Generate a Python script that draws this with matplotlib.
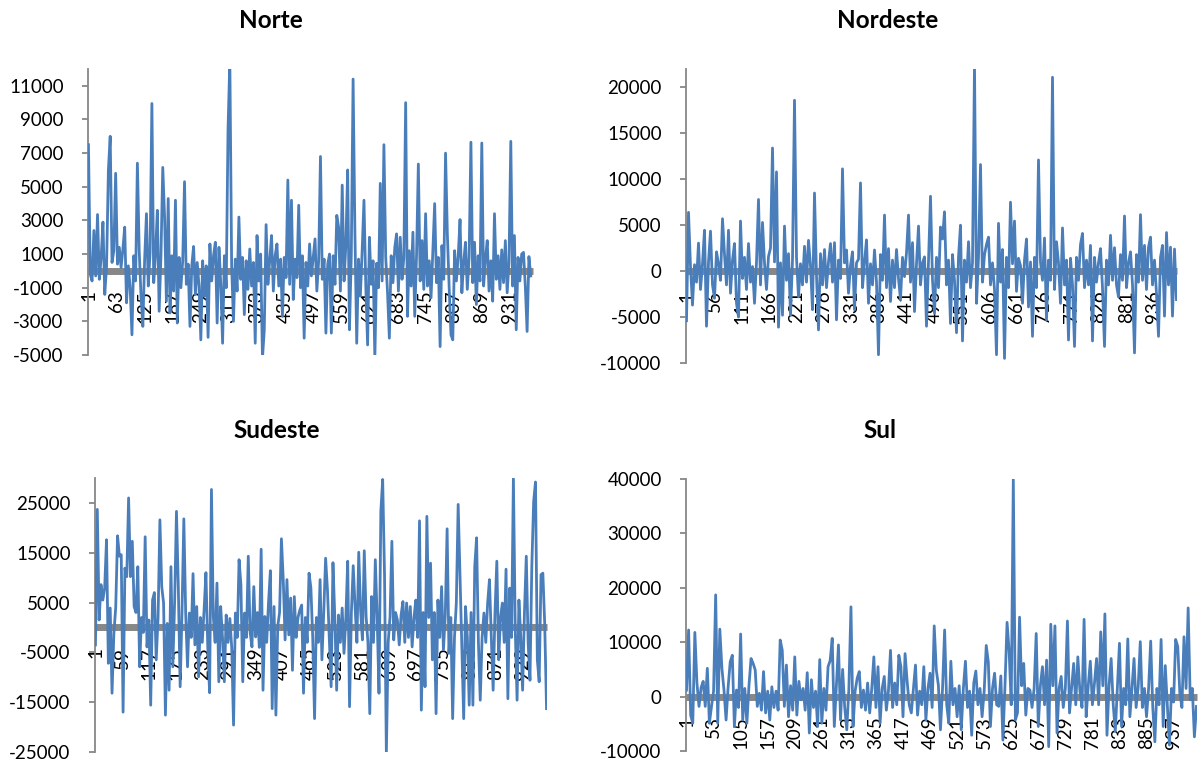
import numpy as np
import matplotlib
matplotlib.use("Agg")
import matplotlib.pyplot as plt

plt.rcParams['font.family'] = ['Lato', 'DejaVu Sans']
plt.rcParams['axes.unicode_minus'] = False

# one value every 4 categories (categories 1, 5, 9, ...)
norte = [
    7500, -200, -600, 2400, -300, 3350, -500, 800, 2900, -1400,
    300, 6000, 8000, 500, 1200, 5800, 400, 1400, 200, 1300,
    2600, -1900, 300, -1000, -3800, 900, -600, 6400, 1200, -1500,
    -3300, 700, 3400, -900, 1100, 9950, -700, 1000, 3600, -2400,
    900, 6150, 3200, -1800, 4300, -2500, 900, -1200, 4200, -3100,
    800, -1000, 600, 5300, -800, 400, -3300, 300, 1450, -1400,
    500, -900, -4100, 600, -1500, 300, -3950, 1600, -600, 900,
    1700, -3100, 1400, -800, -4300, 900, -1000, 8400, 12500, 300,
    -3000, 700, -1200, 3200, -500, 800, -2600, 600, -1100, 1300,
    -900, 500, -4300, 2100, -600, 1000, -5200, -3500, 2750, -800,
    600, 2100, -1200, 900, 1600, -900, 700, -2700, 800, -400,
    5400, -800, 4200, -1700, 700, -400, 3900, -1000, 900, -4000,
    500, -900, 1600, -300, 800, 1900, -1200, 600, 6800, -500,
    700, -3700, 400, 1000, -3700, 900, -800, 3300, 2600, -1200,
    5100, -600, 1500, 6000, -3500, 900, 11400, 2300, -4300, 700,
    -1500, 1200, 4200, -900, -4400, 2000, -800, 600, -5200, 450,
    -1000, 5200, -600, 7500, 800, -1300, -4000, 900, -700, 1400,
    2200, -1200, 2000, -500, 800, 10000, -2700, 1200, -900, 2300,
    -2700, 900, 6350, -600, 1800, -1100, 3400, -900, 600, -1600,
    1200, 4000, -700, 800, -4500, 1500, -500, 7000, 2200, -1000,
    -3800, -4100, 1200, -600, 900, 3050, -1300, 500, 1700, -1100,
    800, 7650, -700, 1700, -2000, 900, -600, 7600, -900, 700,
    1800, -1200, 600, -1800, 3400, -500, 900, -1100, 1250, -700,
    1800, -1300, 500, 7700, -900, 2100, -3500, 800, -600, 1000,
    1100, -900, -3600, 850, -300,
]

nordeste = [
    -5400, 6400, 500, -3700, 700, -1200, 3050, -2000, 800, 4450,
    -6000, 1000, 4350, -1500, -2950, 2100, 800, -1000, 5700, 1800,
    -1500, 4450, -2400, 1200, 3000, -3500, -5000, 5450, -800, 1500,
    -2000, 3000, -1200, 500, -3500, 1000, 7800, -1500, 5300, 900,
    -2000, 1600, 2500, 13400, 1000, 10800, -6100, 900, -4800, 4900,
    -1000, 1900, -4800, 1200, 18600, 1500, -2800, 800, -1500, 2700,
    -1200, 3350, 600, -4200, 8500, -500, -6400, 1900, -1500, 2350,
    -1800, 1000, 3000, -1200, 3100, -5300, 1200, -800, 11130, 900,
    2300, -2400, 600, 2100, -4200, 900, 1300, 9600, -1800, 1000,
    3400, -3500, 800, -1500, 2300, -1200, -9100, 1800, -1000, 6100,
    -1800, 2450, -3300, 1200, -1800, 2350, -800, -3100, 1500, -600,
    2000, 6100, -1200, 3100, -4400, 800, 4900, -1500, 900, 1550,
    -6000, 1000, 8150, -1000, -4600, 1500, -1800, 4800, 3500, 6450,
    -1500, 1200, -5700, 1800, -1000, -6700, 1500, 5000, -7600, 1200,
    -1200, 3200, -1800, 900, 22500, -3500, 1500, 11600, -1200, 1800,
    2900, 3700, -1500, 900, -2000, -9100, 5200, -1200, 2350, -9500,
    1500, -1800, 7500, 800, 5450, -2200, 1400, 600, -3500, 1200,
    3500, -3900, 1000, -7100, 1500, -1800, 12100, 1000, -1000, 3600,
    -5300, 1200, -1000, 21100, -2000, 3200, 900, -3500, 4700, -1500,
    1200, -7500, 1400, -1500, -8200, 1500, -1000, 2900, 4100, -1800,
    1200, -1500, 2800, -7600, 1500, -1200, 900, 2450, -1800, -8200,
    1200, -1500, 3900, -1000, 2550, -1500, -2800, 1800, -1000, 6000,
    -1800, 900, 2100, -1500, -8900, 1800, -1200, 6150, -1000, 2800,
    -2000, 2600, 3700, -1500, 1200, -2500, -7100, 1500, 2800, -4900,
    4200, -1500, 2600, -4900, 2400, -3100,
]

sudeste = [
    -3500, 23700, 1500, 8600, 5500, 7900, 17600, -7200, 3900, -13200,
    -1200, 4000, 18400, 14300, 14600, -17000, 11900, 10200, 26000, 10200,
    17300, 4200, 3000, 12200, -7900, 2000, -1000, 18200, -3900, 1500,
    -15600, 5500, 7000, -6500, 2000, 21600, 8200, 4900, -17600, 800,
    -12600, 12200, -7900, 5000, 23300, 8200, -11900, 3000, 21800, 2900,
    -7900, 2900, -2000, 10800, -3500, 4200, -9900, 2000, -3000, 3500,
    11000, -4000, -13100, 27700, 2200, -3000, 8900, -10900, 4200, -2000,
    -10900, 2500, -3000, 1800, -4000, -19600, 2900, -2000, 13600, 8600,
    -10900, 2900, -2000, 14300, -1000, -3900, 8200, -1900, 3000, -4000,
    15700, -12600, 2200, -3000, 5000, 11400, -16300, 4200, -17600, 200,
    3000, 17800, 9600, -2500, 9600, -1500, 5900, -8600, 6200, -2000,
    2000, 3500, 4500, -13200, 2000, -3000, 10900, 8000, -2000, -18300,
    2000, -3000, 9600, -6500, 3000, 13900, 7600, -2000, -11900, 13000,
    2000, -12600, 2500, -3000, 3900, -5200, 2000, 13300, -15900, 3000,
    12400, 4200, -3000, 15100, 3500, -2500, 15400, 2200, -3000, -17300,
    6200, -3000, 13600, 2000, -13200, 23300, 29700, 10600, -25300, -3000,
    2200, 17300, -2500, 3000, 1500, -3500, 2500, 5200, -3000, 4900,
    -2000, 4200, -3900, 2000, 5500, -2000, 21400, -16600, 3000, -11900,
    22300, 2000, 12900, -6500, 3000, -17300, 5500, -2000, 8200, -4500,
    2500, 19800, -5200, 2000, -18300, -2000, 4900, 24700, 10600, -3000,
    -18300, 4200, -2000, -15600, 3000, -15600, 12200, 18000, -3000, -14600,
    -2000, 2900, -3000, 4900, 9600, -2000, -12600, 3000, 13300, -6500,
    2000, 4900, -3000, 11700, -14300, 7900, -2000, 29900, -200, -14600,
    5500, -2000, -12600, 3000, 14300, -3000, -10600, 12200, 25300, 29200,
    -6500, -10900, 10600, 10900, 800, -16300,
]

sul = [
    1200, 12250, -3400, -4900, 11800, 2500, -1800, 1650, 2800, -1800,
    5200, -4900, -1800, 1000, 18700, -4900, 12400, 5200, 1200, -4300,
    1800, 6400, 7600, -5500, 1200, -2000, 11500, -4300, 1500, -4900,
    2000, 7000, 6100, 4900, -1800, 600, -2500, 4600, -3000, 1000,
    -4300, 1800, -2000, 1000, -2500, 10400, 8500, -1800, 5800, -3700,
    2000, -2500, 7300, -3400, 2800, -600, 1500, -2500, 4400, -6700,
    3100, -2000, 1000, -5500, 6800, -4900, 1500, -2500, 5500, 6600,
    10700, -5500, 2000, 9500, -4300, 5000, -2000, -6100, 1500, 16500,
    -5500, 1000, 3400, 4600, -2000, 1200, -2500, 2500, -3000, 1500,
    7300, -2000, 5500, -4900, 1500, 3700, -2500, 1000, 8500, -2000,
    2500, -1500, 7600, 5500, -3700, 7900, 2800, -1500, -3000, 1500,
    5800, -3400, 1000, -1500, 5500, -4300, 1500, 4300, -2000, 13000,
    4900, 2100, -6100, 1500, 12250, -1500, -4900, 6500, -1500, 1500,
    -3700, 2000, -6100, 1500, 6500, -2000, 1000, -7100, 2500, 4700,
    -1500, 1500, -3700, 1000, 9400, 6300, -5500, 1500, 4300, -1500,
    -1800, 3800, -8000, 2000, 13650, 8300, -1500, 40000, -4300, -3000,
    14600, 2000, 6100, -3400, 1500, 1200, -2000, 1500, 11600, -5500,
    2000, 5500, -1500, 6700, -9200, 13300, 2000, 13000, -6700, 1500,
    3700, -2000, 1500, 13900, -3000, 1500, 6100, -1500, 7300, 1000,
    -2000, 14200, -3700, 2000, 6500, -1500, 2500, 7000, -1500, 11900,
    2000, 15200, -7100, 2000, 7000, -1500, -6400, 1500, 9800, -5500,
    1500, -1500, 10600, -3700, 1500, 7000, -2000, 1800, 10100, -2000,
    1500, -3700, 1500, 10200, -2000, -8300, 1500, -1500, 10500, -5500,
    5700, -1500, -8900, 1500, -1000, 10500, 9200, 600, -2000, 11000,
    1500, 16300, -600, 1500, -7400, -1800,
]

W, H = 1201, 762
fig = plt.figure(figsize=(W / 100, H / 100), dpi=100)

line_color = '#4A7EBB'
axis_grey = '#878787'


def panel(px, vals, step, ylim, yticks, title, title_xy):
    # px = (left, top, right, bottom) in pixels
    l, t, r, b = px
    ax = fig.add_axes([l / W, 1 - b / H, (r - l) / W, (b - t) / H])
    x = np.arange(len(vals)) * 4 + 1
    ax.plot(x, vals, color=line_color, lw=2.0, zorder=3)
    ax.set_xlim(0, 982)
    ax.set_ylim(*ylim)
    for s in ['top', 'right']:
        ax.spines[s].set_visible(False)
    ax.spines['left'].set_color(axis_grey)
    ax.spines['left'].set_linewidth(1.3)
    ax.spines['bottom'].set_position(('data', 0))
    ax.spines['bottom'].set_color(axis_grey)
    ax.spines['bottom'].set_linewidth(5.0)
    ax.spines['bottom'].set_capstyle('butt')
    xt = np.arange(1, 981, step)
    ax.set_xticks(xt)
    ax.set_xticklabels([str(v) for v in xt], rotation=90, va='top', ha='center')
    ax.tick_params(axis='x', length=0, pad=14, labelsize=13.5)
    ax.set_yticks(yticks)
    ax.set_yticklabels([str(v) for v in yticks])
    ax.tick_params(axis='y', length=4.5, width=1.3, color=axis_grey, pad=13, labelsize=13.5)
    ax.patch.set_visible(False)
    fig.text(title_xy[0] / W, 1 - title_xy[1] / H, title, ha='center', va='center',
             fontsize=17.5, fontweight='bold')
    return ax


panel((88, 69, 533, 355), norte, 62, (-5000, 12000),
      list(range(-5000, 11001, 2000)), 'Norte', (271, 21))
panel((686, 69, 1177, 363), nordeste, 55, (-10000, 22000),
      list(range(-10000, 20001, 5000)), 'Nordeste', (888, 21))
panel((95, 478, 547, 752), sudeste, 58, (-25000, 30000),
      list(range(-25000, 25001, 10000)), 'Sudeste', (277, 431))
panel((686, 479, 1197, 751), sul, 52, (-10000, 40000),
      list(range(-10000, 40001, 10000)), 'Sul', (880, 431))

fig.savefig('out.png', dpi=100)
